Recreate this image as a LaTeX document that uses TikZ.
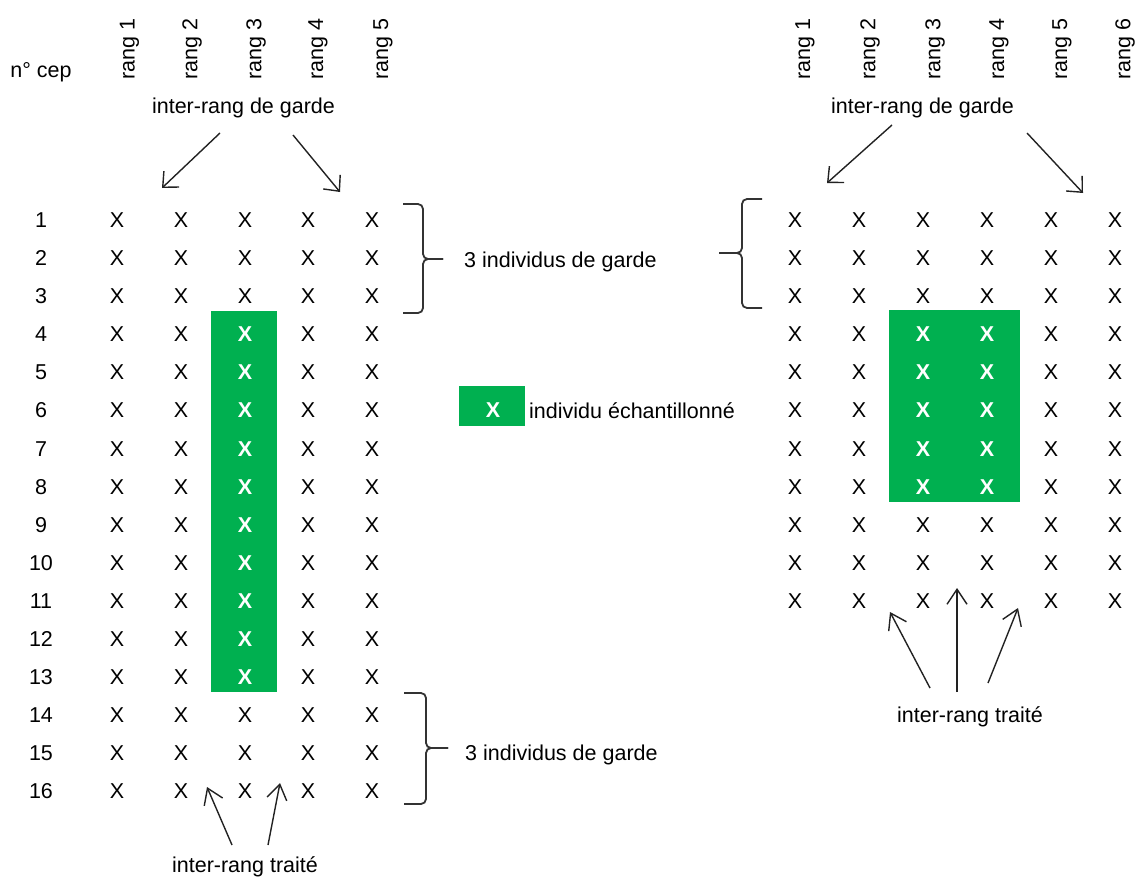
\documentclass[tikz,border=0pt]{standalone}
\usepackage{fontspec}
\setmainfont{Liberation Sans}
\usetikzlibrary{arrows.meta}
\definecolor{sampgreen}{HTML}{00B050}
\definecolor{inkdark}{HTML}{222222}
\definecolor{bracegray}{HTML}{333333}
\tikzset{
  txt/.style={inner sep=0pt, font=\fontsize{21.5}{25}\selectfont, text=black},
  cell/.style={txt},
  cellin/.style={txt, text=white, font=\fontsize{21.5}{25}\selectfont\bfseries},
  header/.style={txt, rotate=90},
  samplebox/.style={fill=sampgreen, draw=none, inner sep=0pt},
  brace/.style={draw=bracegray, line width=1.8pt, rounded corners=5pt},
  toparrow/.style={draw=inkdark, line width=1.4pt, -{Straight Barb[length=12pt,width=22pt,line width=1.4pt]}},
  botarrow/.style={draw=inkdark, line width=1.4pt, -{Straight Barb[length=15pt,width=20pt,line width=1.4pt]}},
}
\begin{document}
\begin{tikzpicture}[x=1pt,y=-1pt]
\useasboundingbox (0,0) rectangle (1138,878);

% ---------- sampled zones ----------
\node[samplebox, minimum width=66pt, minimum height=381pt] (Lbox) at (244,501.5) {};
\node[samplebox, minimum width=131pt, minimum height=192pt] (Rbox) at (954.5,406) {};

% ---------- left plot: 16 vines x 5 rows ----------
\node[txt, anchor=base] (cep) at (41,77) {n° cep};
\foreach \c/\hx in {1/129.5,2/192,3/256,4/318,5/383}
  \node[header] (Lh\c) at (\hx,49) {rang \c};

\foreach \r in {1,...,16} {
  \pgfmathsetmacro{\yy}{220+38.1*(\r-1)}
  \node[txt] (Ln\r) at (41,\yy) {\r};
  \foreach \c/\xx in {1/117,2/181,3/245,4/308,5/372} {
    \pgfmathtruncatemacro{\ing}{(\c==3)&&(\r>3)&&(\r<14)}
    \ifnum\ing=1
      \node[cellin] (L\r-\c) at (\xx,\yy) {X};
    \else
      \node[cell] (L\r-\c) at (\xx,\yy) {X};
    \fi
  }
}

% ---------- right plot: 11 vines x 6 rows ----------
\foreach \c/\hx in {1/805,2/870,3/935,4/999,5/1062,6/1125}
  \node[header] (Rh\c) at (\hx,49) {rang \c};

\foreach \r in {1,...,11} {
  \pgfmathsetmacro{\yy}{220+38.1*(\r-1)}
  \foreach \c/\xx in {1/795,2/859,3/923,4/987,5/1051,6/1115} {
    \pgfmathtruncatemacro{\ing}{((\c==3)||(\c==4))&&(\r>3)&&(\r<9)}
    \ifnum\ing=1
      \node[cellin] (R\r-\c) at (\xx,\yy) {X};
    \else
      \node[cell] (R\r-\c) at (\xx,\yy) {X};
    \fi
  }
}

% ---------- legend ----------
\node[samplebox, minimum width=66pt, minimum height=40pt] (key) at (492,406) {};
\node[cellin] (keyX) at (493,410.5) {X};
\node[txt, anchor=base west] (keytxt) at (529,418) {individu échantillonné};

% ---------- guard vines: braces ----------
\draw[brace] (403,204) -- (423,204) -- (423,259) -- (443,259);
\draw[brace] (403,313) -- (423,313) -- (423,259) -- (443,259);
\node[txt, anchor=base west] (guardTop) at (464,267) {3 individus de garde};

\draw[brace] (404,693) -- (426,693) -- (426,748) -- (448,748);
\draw[brace] (404,804) -- (426,804) -- (426,748) -- (448,748);
\node[txt, anchor=base west] (guardBot) at (465,760) {3 individus de garde};

\draw[brace] (762,199) -- (742,199) -- (742,253) -- (719,253);
\draw[brace] (762,308) -- (742,308) -- (742,253) -- (719,253);

% ---------- guard inter-rows ----------
\node[txt, anchor=base] (gardeL) at (243.5,113) {inter-rang de garde};
\coordinate (gL1a) at (220,133); \coordinate (gL1b) at (162,188);
\coordinate (gL2a) at (293,135); \coordinate (gL2b) at (340,192);
\draw[toparrow] (gL1a) -- (gL1b);
\draw[toparrow] (gL2a) -- (gL2b);

\node[txt, anchor=base] (gardeR) at (922.5,113) {inter-rang de garde};
\coordinate (gR1a) at (892,125); \coordinate (gR1b) at (827,183);
\coordinate (gR2a) at (1027,133); \coordinate (gR2b) at (1083,193);
\draw[toparrow] (gR1a) -- (gR1b);
\draw[toparrow] (gR2a) -- (gR2b);

% ---------- treated inter-rows ----------
\node[txt, anchor=base] (traiteL) at (245,872) {inter-rang traité};
\coordinate (tL1a) at (232,845); \coordinate (tL1b) at (207,787);
\coordinate (tL2a) at (268,845); \coordinate (tL2b) at (280,783);
\draw[botarrow] (tL1a) -- (tL1b);
\draw[botarrow] (tL2a) -- (tL2b);

\node[txt, anchor=base] (traiteR) at (970,722) {inter-rang traité};
\coordinate (tR1a) at (930,688); \coordinate (tR1b) at (890,612);
\coordinate (tR2a) at (957,692); \coordinate (tR2b) at (957,588);
\coordinate (tR3a) at (988,683); \coordinate (tR3b) at (1018,608);
\draw[botarrow] (tR1a) -- (tR1b);
\draw[botarrow] (tR2a) -- (tR2b);
\draw[botarrow] (tR3a) -- (tR3b);
\end{tikzpicture}
\end{document}
